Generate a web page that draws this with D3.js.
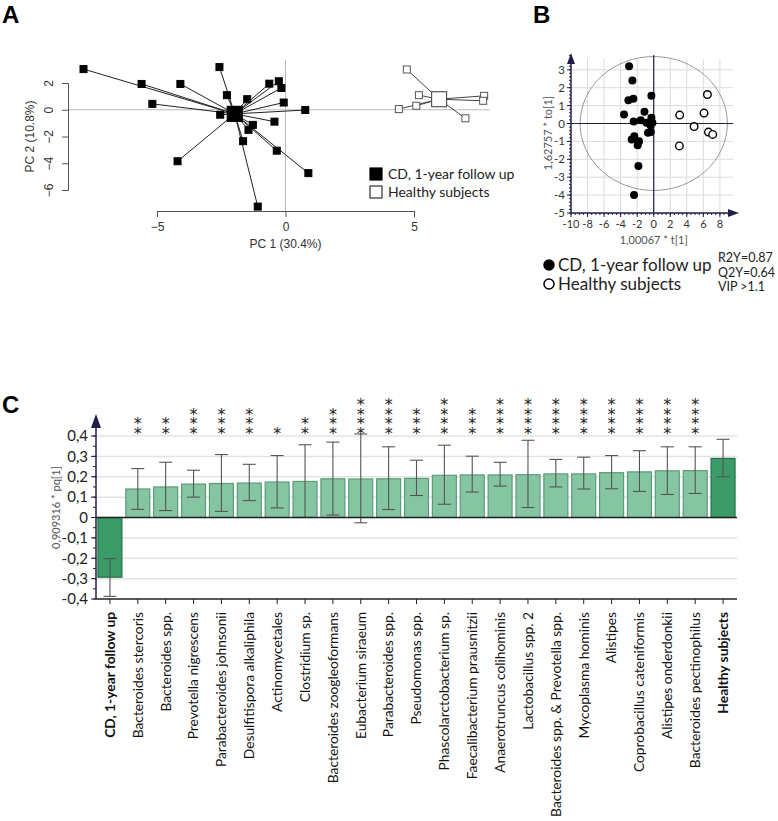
<!DOCTYPE html>
<meta charset="utf-8">
<script src="https://d3js.org/d3.v7.min.js"></script>
<style>
  body { margin: 0; background: #fff; }
  text { font-family: Lato, "Open Sans", sans-serif; }
</style>
<div id="fig"></div>
<script>
// panel A: PCA scores (PC1, PC2)
const cdPC1 = [-7.86, -5.60, -4.09, -5.18, -4.20, -2.57, -2.28, -1.49, -2.54, -0.63, -0.26, -0.16, -0.07, 0.77, -0.43, -1.27, -1.44, -1.65, -0.34, 0.89, -1.08]
const cdPC2 = [3.04, 1.93, 1.93, 0.44, -3.85, 3.19, 1.09, 0.79, -0.37, 1.95, 2.13, 1.63, 0.54, -0.02, -0.89, -1.13, -1.50, -2.35, -3.06, -4.74, -7.24]
const hsPC1 = [4.72, 5.19, 5.09, 4.41, 7.00, 7.73, 7.69]
const hsPC2 = [3.01, 1.09, 0.30, 0.05, -0.64, 1.04, 0.67]

// panel B: OPLS-DA scores t[1], to[1]
const cdT  = [-2.98, -2.58, -3.06, -2.46, -3.59, -0.28, -1.12, -2.42, -1.57, -0.88, -0.28, -0.16, -0.40, -0.69, -0.36, -2.34, -2.66, -1.77, -1.94, -1.85, -2.38]
const cdTo = [3.20, 2.40, 1.30, 1.38, 0.50, 1.55, 0.65, 0.11, 0.18, 0.04, 0.32, 0.04, -0.10, -0.52, -0.47, -0.71, -0.90, -0.99, -1.21, -2.38, -4.00]
const hsT  = [6.49, 3.14, 6.08, 4.88, 6.61, 7.13, 3.10]
const hsTo = [1.62, 0.47, 0.58, -0.17, -0.48, -0.61, -1.25]
const ellipseT = 8.9, ellipseTo = 3.74
const modelStats = ["R2Y=0.87", "Q2Y=0.64", "VIP >1.1"]

// panel C: loadings
const taxa = ["CD, 1-year follow up", "Bacteroides stercoris", "Bacteroides spp.", "Prevotella nigrescens",
  "Parabacteroides johnsonii", "Desulfitispora alkaliphila", "Actinomycetales", "Clostridium sp.",
  "Bacteroides zoogleoformans", "Eubacterium siraeum", "Parabacteroides spp.", "Pseudomonas spp.",
  "Phascolarctobacterium  sp.", "Faecalibacterium prausnitzii", "Anaerotruncus colihominis",
  "Lactobacillus spp. 2", "Bacteroides spp.  & Prevotella spp.", "Mycoplasma hominis", "Alistipes",
  "Coprobacillus cateniformis", "Alistipes onderdonkii", "Bacteroides pectinophilus", "Healthy subjects"]
const loading = [-0.293, 0.14, 0.15, 0.164, 0.167, 0.169, 0.174, 0.177, 0.19, 0.189, 0.19, 0.192, 0.207, 0.209, 0.209, 0.21, 0.214, 0.214, 0.22, 0.224, 0.229, 0.23, 0.29]
const errHigh = [-0.202, 0.24, 0.271, 0.232, 0.309, 0.261, 0.304, 0.357, 0.37, 0.41, 0.347, 0.281, 0.355, 0.301, 0.271, 0.379, 0.285, 0.296, 0.304, 0.328, 0.347, 0.347, 0.384]
const errLow = [-0.387, 0.04, 0.034, 0.10, 0.03, 0.083, 0.047, 0.0, 0.012, -0.026, 0.039, 0.108, 0.065, 0.125, 0.154, 0.049, 0.15, 0.14, 0.141, 0.128, 0.113, 0.118, 0.2]
const stars = [0, 2, 2, 3, 3, 3, 1, 2, 3, 4, 4, 3, 4, 3, 4, 4, 4, 4, 4, 4, 4, 4, 0]
const cTicks = [-0.4, -0.3, -0.2, -0.1, 0, 0.1, 0.2, 0.3, 0.4]

const width = 778
const height = 821
const navy = "#1f1f4a"
const rFont = "Liberation Sans, Arial, sans-serif"

const svg = d3.select("#fig").append("svg")
  .attr("width", width).attr("height", height)
  .style("background", "#fff")

// panel letters
const letters = [["A", 2, 23], ["B", 533, 23], ["C", 2, 413]]
letters.forEach(l => {
  svg.append("text").attr("x", l[1]).attr("y", l[2]).text(l[0])
    .style("font-family", rFont).style("font-weight", "bold").style("font-size", "24px")
})

// ---------------- A ----------------
const gA = svg.append("g")
const xA = d3.scaleLinear().domain([-5, 5]).range([157, 414])
const yA = d3.scaleLinear().domain([-6, 2]).range([190, 83])
const axA = { left: 68, bottom: 211, top: 60, right: 490 }

gA.append("line").attr("x1", axA.left).attr("x2", axA.right).attr("y1", yA(0)).attr("y2", yA(0))
  .attr("stroke", "#bbb")
gA.append("line").attr("x1", xA(0)).attr("x2", xA(0)).attr("y1", axA.top).attr("y2", axA.bottom)
  .attr("stroke", "#bbb")

gA.append("g").attr("transform", `translate(0,${axA.bottom})`)
  .call(d3.axisBottom(xA).tickValues([-5, 0, 5]).tickSizeOuter(0).tickSize(6).tickPadding(5))
  .call(g => g.selectAll("path,line").attr("stroke", "#555"))
  .call(g => g.selectAll("text").style("font-family", rFont).style("font-size", "12px").attr("fill", "#333"))
gA.append("g").attr("transform", `translate(${axA.left},0)`)
  .call(d3.axisLeft(yA).tickValues([-6, -4, -2, 0, 2]).tickSizeOuter(0).tickSize(6))
  .call(g => g.selectAll("path,line").attr("stroke", "#555"))
  .call(g => g.selectAll("text").style("font-family", rFont).style("font-size", "12px").attr("fill", "#333")
    .attr("text-anchor", "middle").attr("x", null).attr("dy", "0.32em")
    .attr("transform", "translate(-19,0) rotate(-90)"))

gA.append("text").attr("x", xA(0)).attr("y", 248).attr("text-anchor", "middle")
  .style("font-family", rFont).style("font-size", "12px").attr("fill", "#333").text("PC 1 (30.4%)")
gA.append("text").attr("transform", `translate(34,${yA(-2)}) rotate(-90)`).attr("text-anchor", "middle")
  .style("font-family", rFont).style("font-size", "12px").attr("fill", "#333").text("PC 2 (10.8%)")

const cdA = cdPC1.map((v, i) => ({ x: v, y: cdPC2[i] }))
const hsA = hsPC1.map((v, i) => ({ x: v, y: hsPC2[i] }))
const cdCen = { x: d3.mean(cdPC1), y: d3.mean(cdPC2) }
const hsCen = { x: d3.mean(hsPC1), y: d3.mean(hsPC2) }

function spider(group, pts, cen, fill, stroke) {
  group.append("g").selectAll("line").data(pts).join("line")
    .attr("x1", xA(cen.x)).attr("y1", yA(cen.y))
    .attr("x2", d => xA(d.x)).attr("y2", d => yA(d.y))
    .attr("stroke", fill === "#000" ? "#222" : "#444").attr("stroke-width", 1)
  group.append("g").selectAll("rect").data(pts).join("rect")
    .attr("x", d => xA(d.x) - 3.5).attr("y", d => yA(d.y) - 3.5)
    .attr("width", 7).attr("height", 7)
    .attr("fill", fill).attr("stroke", stroke).attr("stroke-width", 1)
  group.append("rect")
    .attr("x", xA(cen.x) - 7.5).attr("y", yA(cen.y) - 7.5)
    .attr("width", 15).attr("height", 15)
    .attr("fill", fill).attr("stroke", stroke).attr("stroke-width", 1.2)
}
spider(gA, cdA, cdCen, "#000", "#000")
spider(gA, hsA, hsCen, "#fff", "#555")

// legend A
const legA = [["CD, 1-year follow up", "#000", "#000"], ["Healthy subjects", "#fff", "#333"]]
legA.forEach((l, i) => {
  gA.append("rect").attr("x", 370).attr("y", 168 + i * 18).attr("width", 12).attr("height", 12)
    .attr("fill", l[1]).attr("stroke", l[2]).attr("stroke-width", 1.2)
  gA.append("text").attr("x", 388).attr("y", 174 + i * 18).attr("dy", "0.35em")
    .style("font-size", "14px").attr("fill", "#222").text(l[0])
})

// ---------------- B ----------------
const gB = svg.append("g")
const xB = d3.scaleLinear().domain([-10, 8]).range([571, 719.9])
const yB = d3.scaleLinear().domain([-5, 3]).range([213, 69.8])
const bTop = 55, bRight = 737

// grid
gB.append("g").selectAll("line").data(d3.range(-8, 9, 2)).join("line")
  .attr("x1", d => xB(d)).attr("x2", d => xB(d)).attr("y1", yB(-5)).attr("y2", bTop + 4)
  .attr("stroke", "#dcdcdc")
gB.append("g").selectAll("line").data(d3.range(-4, 4, 1)).join("line")
  .attr("x1", xB(-10)).attr("x2", bRight - 4).attr("y1", d => yB(d)).attr("y2", d => yB(d))
  .attr("stroke", "#dcdcdc")

// ellipse
gB.append("ellipse").attr("cx", xB(0)).attr("cy", yB(0))
  .attr("rx", xB(ellipseT) - xB(0)).attr("ry", yB(0) - yB(ellipseTo))
  .attr("fill", "none").attr("stroke", "#999").attr("stroke-width", 1)

// zero lines
gB.append("line").attr("x1", xB(0)).attr("x2", xB(0)).attr("y1", yB(-5)).attr("y2", bTop)
  .attr("stroke", navy).attr("stroke-width", 1.2)
gB.append("line").attr("x1", xB(-10)).attr("x2", bRight - 4).attr("y1", yB(0)).attr("y2", yB(0))
  .attr("stroke", navy).attr("stroke-width", 1.2)

// axes
gB.append("line").attr("x1", xB(-10)).attr("x2", xB(-10)).attr("y1", yB(-5)).attr("y2", bTop + 6)
  .attr("stroke", navy).attr("stroke-width", 1.5)
gB.append("line").attr("x1", xB(-10)).attr("x2", bRight - 6).attr("y1", yB(-5)).attr("y2", yB(-5))
  .attr("stroke", navy).attr("stroke-width", 1.5)
gB.append("path").attr("d", `M${xB(-10) - 4},${bTop + 9}L${xB(-10)},${bTop - 2}L${xB(-10) + 4},${bTop + 9}Z`).attr("fill", navy)
gB.append("path").attr("d", `M${bRight - 9},${yB(-5) - 4}L${bRight + 2},${yB(-5)}L${bRight - 9},${yB(-5) + 4}Z`).attr("fill", navy)

// ticks
gB.append("g").selectAll("line").data(d3.range(-5, 3.81, 0.2)).join("line")
  .attr("x1", xB(-10) - 2).attr("x2", xB(-10)).attr("y1", d => yB(d)).attr("y2", d => yB(d))
  .attr("stroke", navy)
gB.append("g").selectAll("line").data(d3.range(-5, 4, 1)).join("line")
  .attr("x1", xB(-10) - 4).attr("x2", xB(-10)).attr("y1", d => yB(d)).attr("y2", d => yB(d))
  .attr("stroke", navy)
gB.append("g").selectAll("line").data(d3.range(-10, 9.6, 0.5)).join("line")
  .attr("x1", d => xB(d)).attr("x2", d => xB(d)).attr("y1", yB(-5)).attr("y2", yB(-5) + 2)
  .attr("stroke", navy)
gB.append("g").selectAll("line").data(d3.range(-10, 9, 2)).join("line")
  .attr("x1", d => xB(d)).attr("x2", d => xB(d)).attr("y1", yB(-5)).attr("y2", yB(-5) + 4)
  .attr("stroke", navy)

gB.append("g").selectAll("text").data(d3.range(-5, 4, 1)).join("text")
  .attr("x", xB(-10) - 6).attr("y", d => yB(d)).attr("dy", "0.35em").attr("text-anchor", "end")
  .style("font-size", "11.5px").attr("fill", "#333").text(d => d)
gB.append("g").selectAll("text").data(d3.range(-10, 9, 2)).join("text")
  .attr("x", d => xB(d)).attr("y", yB(-5) + 11).attr("dy", "0.35em").attr("text-anchor", "middle")
  .style("font-size", "11px").attr("fill", "#333").text(d => d)

gB.append("text").attr("x", xB(0)).attr("y", 244).attr("text-anchor", "middle")
  .style("font-size", "11px").attr("fill", "#555").text("1,00067 * t[1]")
gB.append("text").attr("transform", `translate(552,133) rotate(-90)`).attr("text-anchor", "middle")
  .style("font-size", "11px").attr("fill", "#555").text("1,62757 * to[1]")

// points
gB.append("g").selectAll("circle").data(cdT).join("circle")
  .attr("cx", d => xB(d)).attr("cy", (d, i) => yB(cdTo[i])).attr("r", 4)
  .attr("fill", "#000")
gB.append("g").selectAll("circle").data(hsT).join("circle")
  .attr("cx", d => xB(d)).attr("cy", (d, i) => yB(hsTo[i])).attr("r", 3.8)
  .attr("fill", "#fff").attr("stroke", "#000").attr("stroke-width", 1.4)

// legend B
const legB = [["CD, 1-year follow up", "#000"], ["Healthy subjects", "#fff"]]
legB.forEach((l, i) => {
  gB.append("circle").attr("cx", 549).attr("cy", 265 + i * 19).attr("r", 5)
    .attr("fill", l[1]).attr("stroke", "#000").attr("stroke-width", 1.5)
  gB.append("text").attr("x", 558).attr("y", 265 + i * 19).attr("dy", "0.35em")
    .style("font-size", "17px").attr("fill", "#222").text(l[0])
})
gB.append("g").selectAll("text").data(modelStats).join("text")
  .attr("x", 718).attr("y", (d, i) => 258 + i * 14.5).attr("dy", "0.35em")
  .style("font-size", "12.5px").attr("fill", "#222").text(d => d)

// ---------------- C ----------------
const gC = svg.append("g")
const xC = d3.scaleBand().domain(taxa).range([96, 737]).paddingInner(0.14).paddingOuter(0.07)
const yC = d3.scaleLinear().domain([-0.4, 0.4]).range([599, 436])
const cRight = 737

gC.append("g").selectAll("line").data(cTicks.filter(d => d !== 0 && d !== -0.4)).join("line")
  .attr("x1", 96).attr("x2", cRight).attr("y1", d => yC(d)).attr("y2", d => yC(d))
  .attr("stroke", "#e3e3e3").attr("stroke-width", 1.5)

const dark = (d, i) => i === 0 || i === taxa.length - 1
gC.append("g").selectAll("rect").data(loading).join("rect")
  .attr("x", (d, i) => xC(taxa[i])).attr("width", xC.bandwidth())
  .attr("y", d => yC(Math.max(0, d))).attr("height", d => Math.abs(yC(d) - yC(0)))
  .attr("fill", (d, i) => dark(d, i) ? "#3a9a68" : "#86c5a2")
  .attr("stroke", (d, i) => dark(d, i) ? "#25704a" : "#5a9c78").attr("stroke-width", 1.2)

// error bars
const eb = gC.append("g").attr("stroke", "#555").attr("stroke-width", 1.1)
loading.forEach((d, i) => {
  const cx = xC(taxa[i]) + xC.bandwidth() / 2
  eb.append("line").attr("x1", cx).attr("x2", cx).attr("y1", yC(errHigh[i])).attr("y2", yC(errLow[i]))
  ;[errHigh[i], errLow[i]].forEach(v => {
    eb.append("line").attr("x1", cx - 6.5).attr("x2", cx + 6.5).attr("y1", yC(v)).attr("y2", yC(v))
  })
})

// zero line and axes
gC.append("line").attr("x1", 96).attr("x2", cRight).attr("y1", yC(0)).attr("y2", yC(0))
  .attr("stroke", "#222").attr("stroke-width", 1.5)
gC.append("line").attr("x1", 96).attr("x2", cRight).attr("y1", yC(-0.4)).attr("y2", yC(-0.4))
  .attr("stroke", "#222").attr("stroke-width", 1.5)
gC.append("line").attr("x1", 96).attr("x2", 96).attr("y1", yC(-0.4)).attr("y2", 424)
  .attr("stroke", navy).attr("stroke-width", 1.5)
gC.append("path").attr("d", `M91,428L96,414L101,428Z`).attr("fill", navy)

gC.append("g").selectAll("line").data(d3.range(-0.4, 0.401, 0.05)).join("line")
  .attr("x1", 93).attr("x2", 96).attr("y1", d => yC(d)).attr("y2", d => yC(d)).attr("stroke", navy)
gC.append("g").selectAll("line").data(cTicks).join("line")
  .attr("x1", 91).attr("x2", 96).attr("y1", d => yC(d)).attr("y2", d => yC(d)).attr("stroke", navy)
gC.append("g").selectAll("text").data(cTicks).join("text")
  .attr("x", 88).attr("y", d => yC(d)).attr("dy", "0.35em").attr("text-anchor", "end")
  .style("font-size", "15px").attr("fill", "#222")
  .text(d => d3.format(".1f")(d).replace(".", ",").replace("−", "-").replace("0,0", "0"))

gC.append("text").attr("transform", `translate(60,${yC(0) - 10}) rotate(-90)`).attr("text-anchor", "middle")
  .style("font-size", "11px").attr("fill", "#555").text("0,909316 * pq[1]")

// x ticks and labels
gC.append("g").selectAll("line").data(taxa).join("line")
  .attr("x1", d => xC(d) + xC.bandwidth() / 2).attr("x2", d => xC(d) + xC.bandwidth() / 2)
  .attr("y1", yC(-0.4)).attr("y2", yC(-0.4) + 5).attr("stroke", "#222")
gC.append("g").selectAll("text").data(taxa).join("text")
  .attr("transform", d => `translate(${xC(d) + xC.bandwidth() / 2},612) rotate(-90)`)
  .attr("dy", "0.35em").attr("text-anchor", "end")
  .style("font-size", "13.8px")
  .style("font-weight", (d, i) => dark(d, i) ? "bold" : "normal")
  .attr("fill", "#111").text(d => d)

// significance stars: one vertical text per column
gC.append("g").selectAll("text")
  .data(taxa.filter((t, i) => stars[i] > 0)).join("text")
  .attr("x", d => xC(d) + xC.bandwidth() / 2).attr("y", 433)
  .attr("text-anchor", "end")
  .style("writing-mode", "vertical-rl").style("text-orientation", "upright")
  .style("font-family", "DejaVu Sans, sans-serif").style("font-size", "16px")
  .style("letter-spacing", "-9.6px")
  .attr("fill", "#222")
  .text(d => "*".repeat(stars[taxa.indexOf(d)]))
</script>
